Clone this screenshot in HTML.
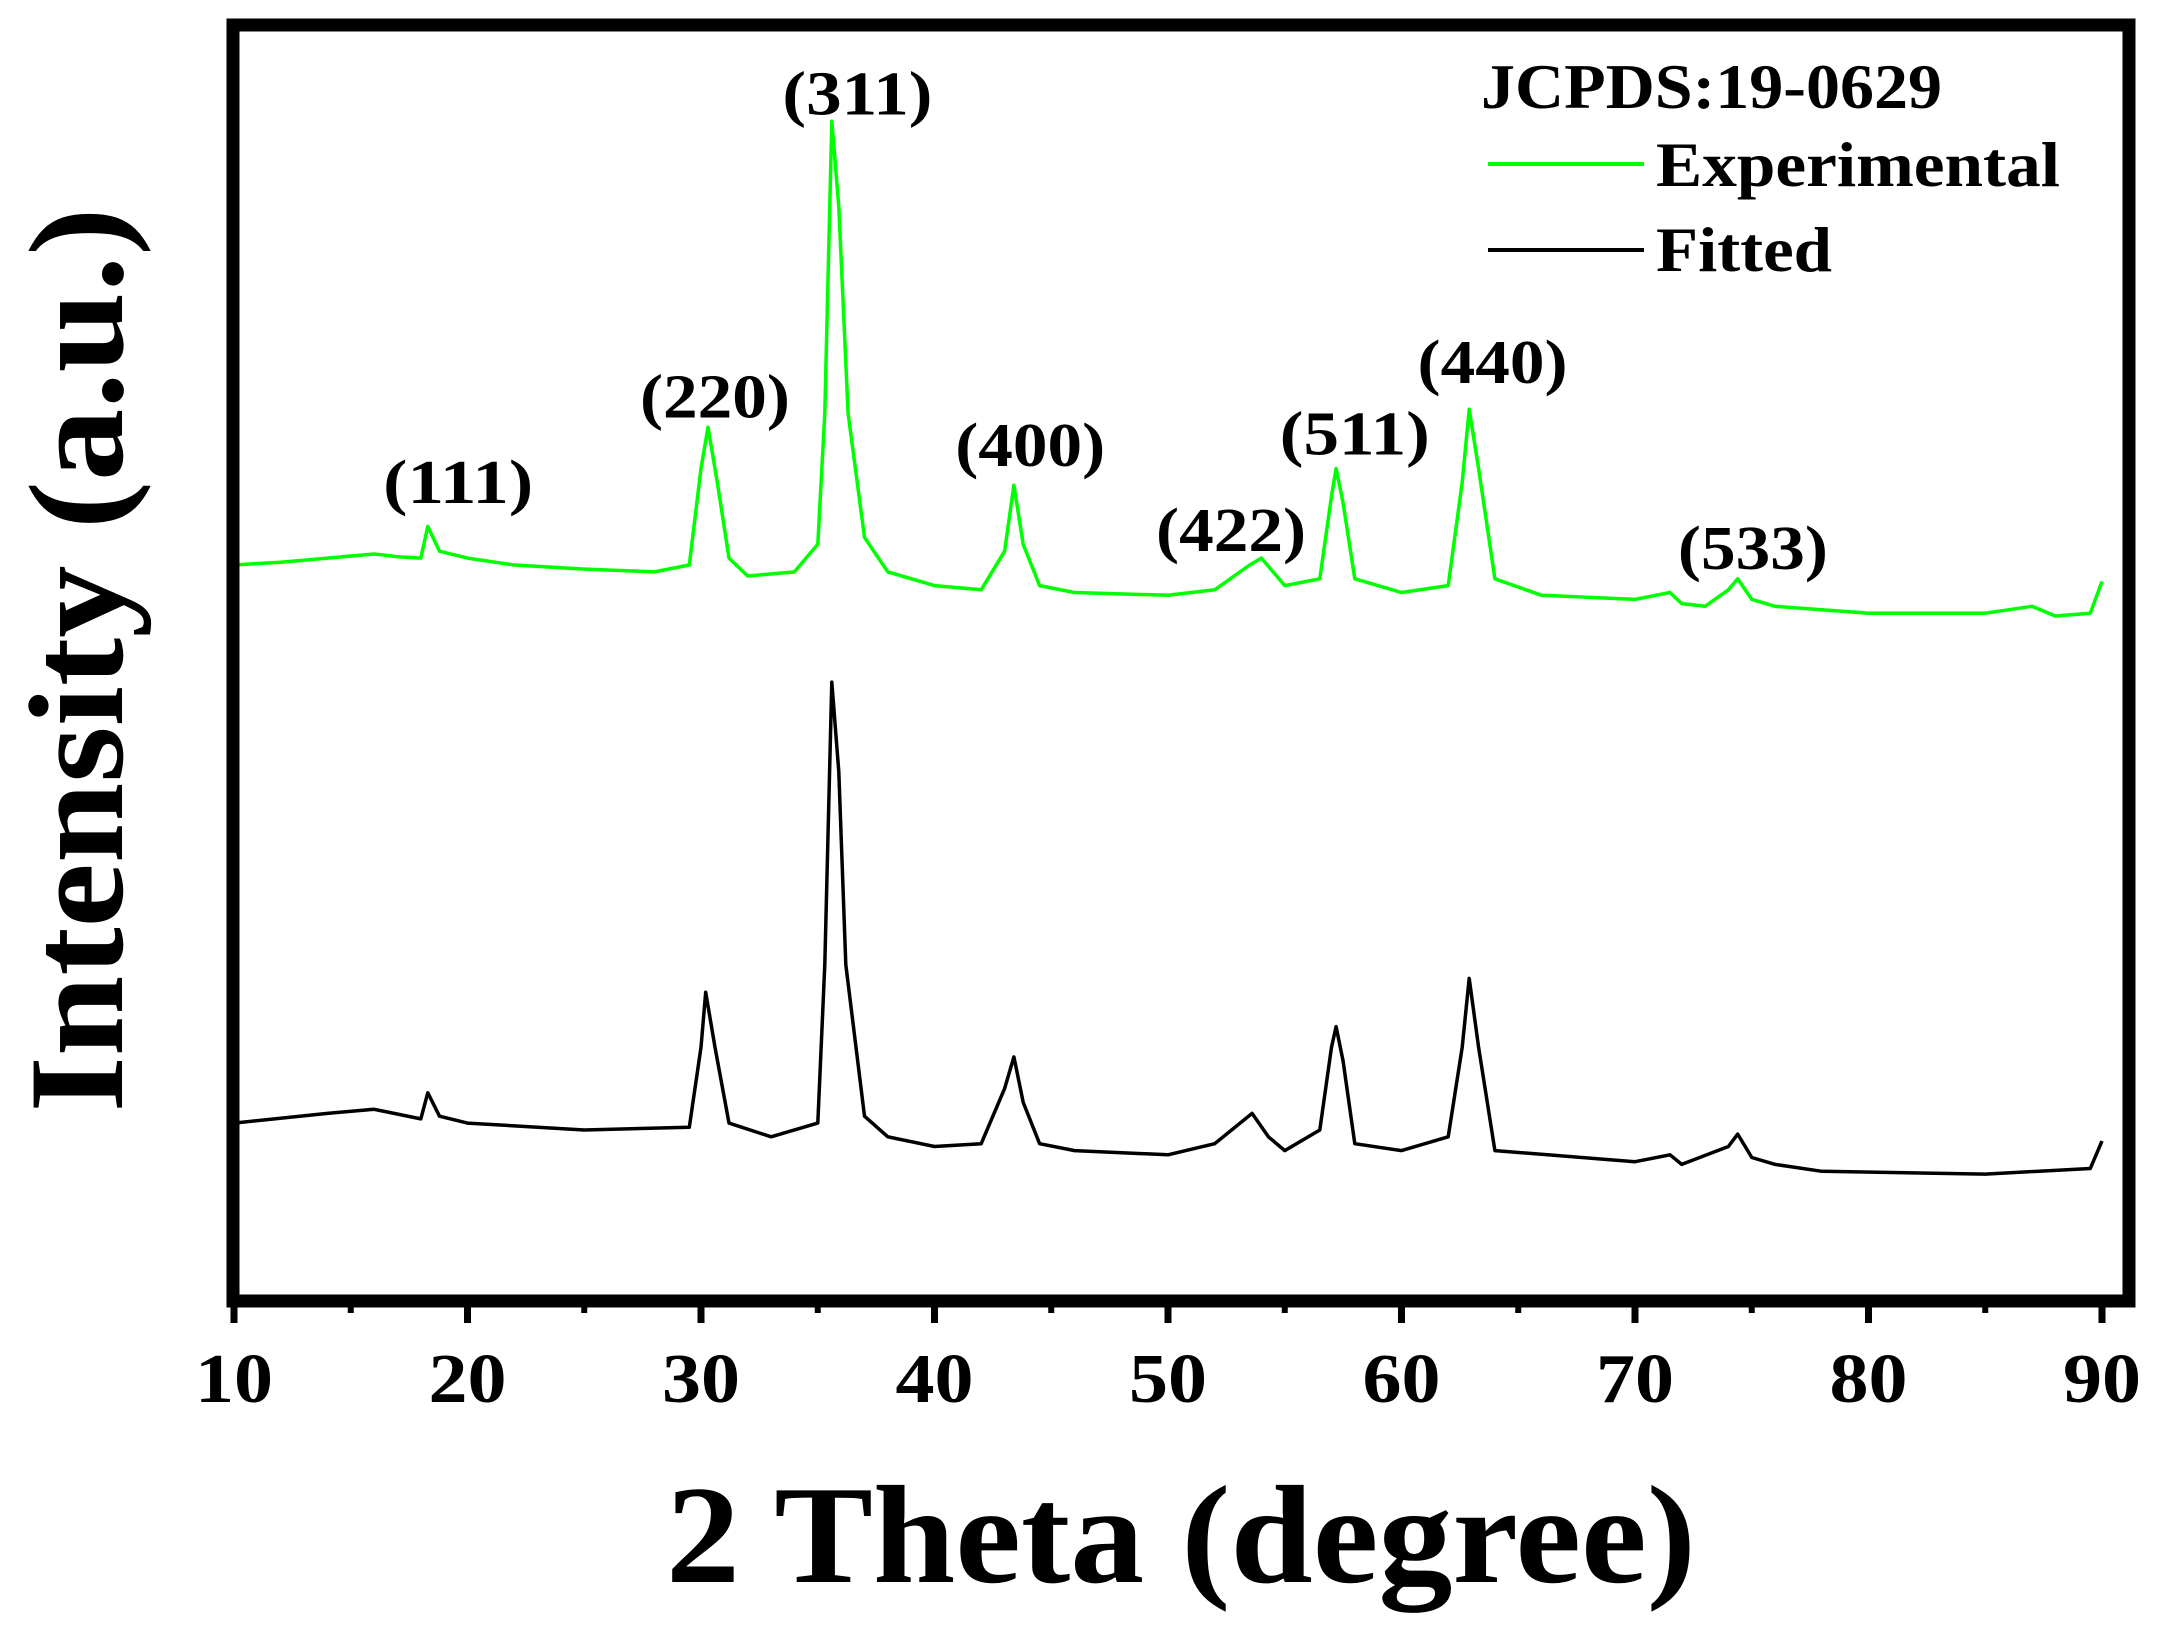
<!DOCTYPE html>
<html><head><meta charset="utf-8"><style>
html,body{margin:0;padding:0;background:#fff}
svg{display:block}
text{font-family:"Liberation Serif",serif;font-weight:bold;fill:#000}
</style></head><body>
<svg id="chart" width="2161" height="1636" viewBox="0 0 2161 1636" xmlns="http://www.w3.org/2000/svg">
<g id="plot"></g>
<rect x="233" y="25" width="1896" height="1276" fill="none" stroke="#000" stroke-width="13"/>
<g id="xaxis"></g>
<text x="1181" y="1582" font-size="140" text-anchor="middle" textLength="1030" lengthAdjust="spacingAndGlyphs">2 Theta (degree)</text>
<text transform="translate(122,660) rotate(-90)" font-size="135" text-anchor="middle" textLength="905" lengthAdjust="spacingAndGlyphs">Intensity (a.u.)</text>
<g>
<text x="1481" y="108" font-size="64" textLength="461" lengthAdjust="spacingAndGlyphs">JCPDS:19-0629</text>
<line x1="1488" y1="164" x2="1644" y2="164" stroke="#00ff00" stroke-width="4"/>
<text x="1656" y="186" font-size="64" textLength="404" lengthAdjust="spacingAndGlyphs">Experimental</text>
<line x1="1488" y1="250" x2="1644" y2="250" stroke="#000" stroke-width="4"/>
<text x="1656" y="271" font-size="64" textLength="176" lengthAdjust="spacingAndGlyphs">Fitted</text>
</g>
<g id="labels"></g>
</svg>
<script>
const ticks = [10,20,30,40,50,60,70,80,90];
const minorTicks = [15,25,35,45,55,65,75,85];
const expX = [10,12,14,16,17,18,18.3,18.8,20,22,25,28,29.5,30.0,30.3,30.7,31.2,32,34,35,35.3,35.6,35.9,36.3,37,38,40,42,43,43.4,43.8,44.5,46,50,52,53.5,54,55,56.5,57.0,57.2,57.5,58,60,62,62.6,62.9,63.3,64,66,70,71.5,72,73,74,74.4,75,76,80,85,87,88,89.5,90];
const expI = [535,537,540,543,541,540,563,545,540,535,532,530,535,605,635,595,540,527,530,550,645,857,795,645,555,530,520,517,545,593,550,520,515,513,517,535,540,520,525,585,605,580,525,515,520,595,648,605,525,513,510,515,507,505,517,525,510,505,500,500,505,498,500,523];
const fitX = [10,14,16,18,18.3,18.8,20,25,29.5,30.0,30.2,30.6,31.2,33,35,35.3,35.6,35.9,36.2,37,38,40,42,43,43.4,43.8,44.5,46,50,52,53.6,54.3,55,56.5,57.0,57.2,57.5,58,60,62,62.6,62.9,63.3,64,70,71.5,72,74,74.4,75,76,78,85,89.5,90];
const fitI = [130,137,140,133,152,135,130,125,127,185,225,185,130,120,130,245,450,385,245,135,120,113,115,155,178,145,115,110,107,115,137,120,110,125,185,200,175,115,110,120,185,235,185,110,102,107,100,113,122,105,100,95,93,97,117];
const peakLabels = ["(111)","(220)","(311)","(400)","(422)","(511)","(440)","(533)"];
const peakPos = [19.6,30.6,36.7,44.1,52.7,58.0,63.9,75.05];
const peakI = [580,642,862,607,545,615,667,532];

const NS="http://www.w3.org/2000/svg";
const xs = v => 234 + (v-10)*23.35;
const ys = i => (945 - i)*1.378;
function mk(tag, attrs){const e=document.createElementNS(NS,tag);for(const k in attrs)e.setAttribute(k,attrs[k]);return e;}
const plot=document.getElementById('plot');
function drawLine(X,I,color,name){
  const d=X.map((x,k)=>(k?'L':'M')+xs(x).toFixed(1)+' '+ys(I[k]).toFixed(1)).join(' ');
  const p=mk('path',{d:d,fill:'none',stroke:color,'stroke-width':3.5,'stroke-linejoin':'round'});
  
  
  plot.appendChild(p);
}
drawLine(expX,expI,'#00ff00','experimental-line');
drawLine(fitX,fitI,'#000','fitted-line');
const xa=document.getElementById('xaxis');
ticks.forEach(t=>{
  const l=mk('line',{x1:xs(t),x2:xs(t),y1:1301,y2:1323,stroke:'#000','stroke-width':7});
  
  
  xa.appendChild(l);
  const tx=mk('text',{x:xs(t),y:1402,'font-size':70,'text-anchor':'middle',textLength:78,lengthAdjust:'spacingAndGlyphs'});
  tx.textContent=t;
  
  
  xa.appendChild(tx);
});
minorTicks.forEach(t=>{
  const l=mk('line',{x1:xs(t),x2:xs(t),y1:1301,y2:1313,stroke:'#000','stroke-width':6});
  
  
  xa.appendChild(l);
});
const lg=document.getElementById('labels');
peakLabels.forEach((s,k)=>{
  const tx=mk('text',{x:xs(peakPos[k]),y:ys(peakI[k]),'font-size':62,'text-anchor':'middle',textLength:150,lengthAdjust:'spacingAndGlyphs'});
  tx.textContent=s;
  
  
  lg.appendChild(tx);
});
</script>
</body></html>
